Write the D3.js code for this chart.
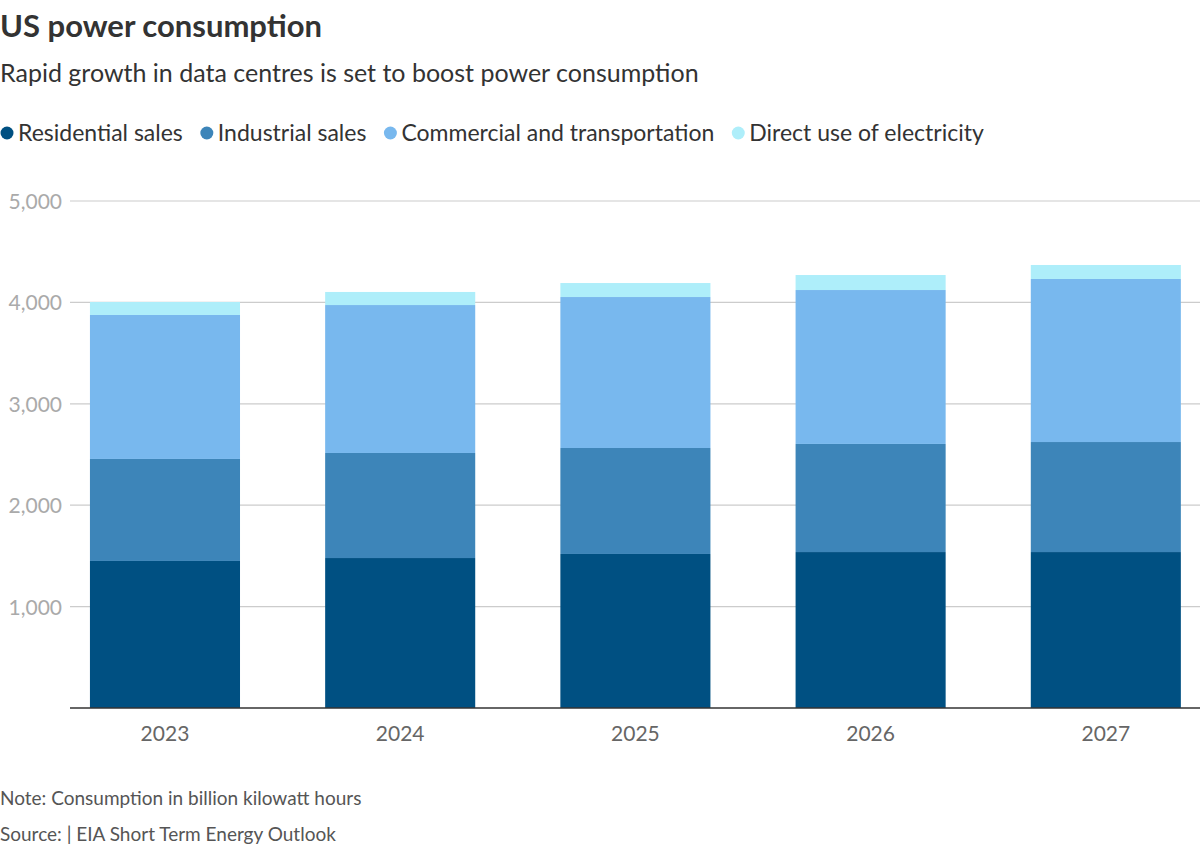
<!DOCTYPE html>
<html>
<head>
<meta charset="utf-8">
<script src="https://d3js.org/d3.v7.min.js"></script>
<style>
 body { margin: 0; background: #fff; }
 text { font-family: Lato, "Open Sans", sans-serif; }
</style>
</head>
<body>
<svg id="chart" width="1200" height="847"></svg>
<script>
// values (billion kWh)
var years = ["2023", "2024", "2025", "2026", "2027"];
var residential = [1450, 1479, 1519, 1538, 1538];
var industrial = [1006, 1036, 1045, 1066, 1085];
var commercial = [1420, 1459, 1489, 1518, 1608];
var direct = [128, 129, 138, 148, 138];
var yTicks = [1000, 2000, 3000, 4000, 5000];

var seriesNames = ["Residential sales", "Industrial sales", "Commercial and transportation", "Direct use of electricity"];
var colors = ["#005082", "#3d85b9", "#78b8ee", "#aeeefa"];

var svg = d3.select("#chart");

// build rows for the stack
var rows = years.map((y, i) => ({
  year: y, s0: residential[i], s1: industrial[i], s2: commercial[i], s3: direct[i]
}));
var stack = d3.stack().keys(["s0", "s1", "s2", "s3"])(rows);

var x = d3.scaleBand().domain(years).range([4.8, 1266]).paddingInner(0.362).paddingOuter(0.362);
var y = d3.scaleLinear().domain([0, 5000]).range([708, 201]);

// title block
svg.append("text").attr("x", 0).attr("y", 37).attr("font-size", 31).attr("font-weight", 700)
  .attr("fill", "#333").text("US power consumption");
svg.append("text").attr("x", 0).attr("y", 82).attr("font-size", 25).attr("fill", "#333")
  .text("Rapid growth in data centres is set to boost power consumption");

// legend
var lx = 0;
seriesNames.forEach((name, i) => {
  var g = svg.append("g").attr("transform", "translate(" + lx + ",133)");
  g.append("circle").attr("cx", 7).attr("cy", 0).attr("r", 6.5).attr("fill", colors[i]);
  var t = g.append("text").attr("x", 18).attr("y", 8).attr("font-size", 23).attr("fill", "#333").text(name);
  lx += 18 + t.node().getComputedTextLength() + 17;
});

// gridlines and tick labels
yTicks.forEach(v => {
  svg.append("line").attr("x1", 70).attr("x2", 1200).attr("y1", y(v)).attr("y2", y(v))
    .attr("stroke", "#ccc").attr("stroke-width", 1.2);
  svg.append("text").attr("x", 62).attr("y", y(v) + 8).attr("text-anchor", "end")
    .attr("font-size", 21).attr("fill", "#aaa").text(d3.format(",")(v));
});

// bars
svg.selectAll("g.layer").data(stack).enter().append("g")
  .attr("fill", (d, i) => colors[i])
  .selectAll("rect").data(d => d).enter().append("rect")
  .attr("x", d => x(d.data.year))
  .attr("width", x.bandwidth())
  .attr("y", d => y(d[1]))
  .attr("height", d => y(d[0]) - y(d[1]));

// baseline
svg.append("line").attr("x1", 70).attr("x2", 1200).attr("y1", 708).attr("y2", 708)
  .attr("stroke", "#333").attr("stroke-width", 1.5);

// x labels
years.forEach(yr => {
  svg.append("text").attr("x", x(yr) + x.bandwidth() / 2).attr("y", 741).attr("text-anchor", "middle")
    .attr("font-size", 21).attr("fill", "#666").text(yr);
});

// footer
svg.append("text").attr("x", 0).attr("y", 805).attr("font-size", 19).attr("fill", "#555")
  .text("Note: Consumption in billion kilowatt hours");
svg.append("text").attr("x", 0).attr("y", 841).attr("font-size", 19).attr("fill", "#555")
  .text("Source:  | EIA Short Term Energy Outlook");
</script>
</body>
</html>
